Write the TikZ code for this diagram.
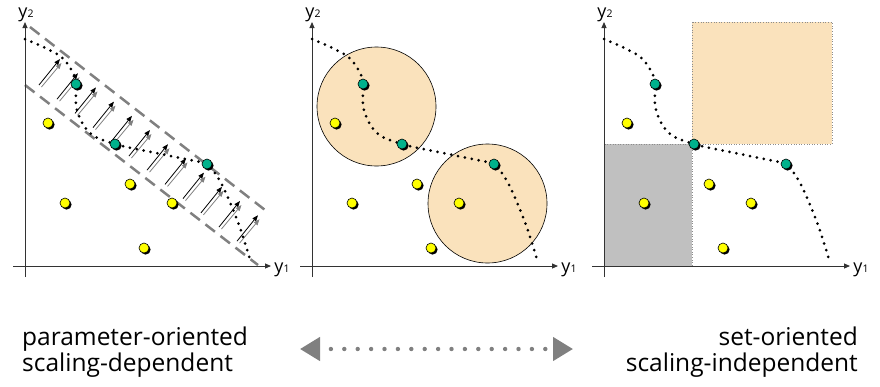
\documentclass[tikz,border=0pt]{standalone}
\usepackage{fontspec}
\setmainfont{Open Sans}
\usetikzlibrary{arrows.meta,positioning,shadows}
\definecolor{FrontGreen}{RGB}{0,178,140}
\definecolor{PointYellow}{RGB}{255,255,0}
\definecolor{Peach}{RGB}{250,226,188}
\definecolor{BoxGray}{RGB}{192,192,192}
\definecolor{BandGray}{RGB}{128,128,128}

\begin{document}
\begin{tikzpicture}[
   x=1pt, y=-1pt,
   axis/.style={black!80,line width=0.9pt,-{Triangle[length=6pt,width=5pt]}},
   lbl/.style={inner sep=0pt,font=\fontsize{18}{18}\selectfont},
   front/.style={line width=3pt,line cap=round,dash pattern=on 0pt off 7pt},
   ptdot/.style={circle,draw=black,line width=0.6pt,inner sep=0pt,minimum size=10pt,
              drop shadow={shadow xshift=1.6pt,shadow yshift=-1.6pt,fill=black,opacity=1}},
   ydot/.style={ptdot,fill=PointYellow},
   gdot/.style={ptdot,fill=FrontGreen},
   band/.style={BandGray,line width=2.5pt,dash pattern=on 12pt off 7pt},
   push/.style={line width=0.8pt,-{Triangle[length=6pt,width=4.5pt]}},
   blob/.style={circle,draw=black,line width=0.6pt,fill=Peach,minimum size=119pt,inner sep=0pt},
   captxt/.style={inner sep=0pt,font=\fontsize{24.5}{26}\selectfont},
   twoway/.style={BandGray,line width=4.4pt,line cap=round,dash pattern=on 0pt off 13.4pt,dash phase=1.4pt,
                  {Triangle[length=20pt,width=23pt]}-{Triangle[length=20pt,width=23pt]}}]
   \useasboundingbox (0,0) rectangle (880,386);

   \coordinate (bandA1) at (30,27);
   \coordinate (bandA2) at (265,210);
   \coordinate (bandB1) at (25,85);
   \coordinate (bandB2) at (258,265);
   \draw[band] (bandA1) -- (bandA2);
   \draw[band] (bandB1) -- (bandB2);
   \foreach \i in {0,...,11}{
      \draw[push,BandGray] ({41.5+18*\i},{87+14.2*\i}) -- ++(20,-24);
      \draw[push] ({39+18*\i},{85+14.2*\i}) -- ++(21,-26);
   }

   \node[blob] (ballA) at (376.5,106.5) {};
   \node[blob] (ballB) at (487.5,203.5) {};

   \draw[fill=BoxGray,draw=black!45,dotted,line width=0.6pt] (604,144) rectangle (692,266);
   \draw[fill=Peach,draw=black!45,dotted,line width=0.6pt] (692,22) rectangle (832,144);

   \foreach \dx/\p in {0/a,287/b,579/c}{
      \begin{scope}[xshift=\dx]
         \coordinate (xs\p) at (13,266);
         \coordinate (xe\p) at (271,266);
         \coordinate (ys\p) at (25,277);
         \coordinate (ye\p) at (25,22);
         \draw[axis] (xs\p) -- (xe\p);
         \draw[axis] (ys\p) -- (ye\p);
         \node[lbl] (ytwo\p) at (26,15) {y{\fontsize{10.5}{10.5}\selectfont 2}};
         \node[lbl] (yone\p) at (282,270) {y{\fontsize{10.5}{10.5}\selectfont 1}};
         \draw[front] plot[smooth,tension=0.6] coordinates {(25,39) (60,56) (74,75) (76,84) (77,110) (90,133)
            (115,144) (156,153) (195,161) (207,164) (221,183) (236,217) (245,243) (251,263)};
         \node[ydot] (p1\p) at (48,123) {};
         \node[ydot] (p2\p) at (65,203) {};
         \node[ydot] (p3\p) at (130,184) {};
         \node[ydot] (p4\p) at (172,203) {};
         \node[ydot] (p5\p) at (144,248) {};
         \node[gdot] (f1\p) at (76,84) {};
         \node[gdot] (f2\p) at (115,144) {};
         \node[gdot] (f3\p) at (207,164) {};
      \end{scope}
   }

   \node[captxt,anchor=north west,align=left] (paramtxt) at (22,327) {parameter-oriented\\scaling-dependent};
   \node[captxt,anchor=north east,align=right] (settxt) at (858,327) {set-oriented\\scaling-independent};
   \coordinate (leftend) at (300,349);
   \coordinate (rightend) at (573,349);
   \draw[twoway] (leftend) -- (rightend);
\end{tikzpicture}
\end{document}
